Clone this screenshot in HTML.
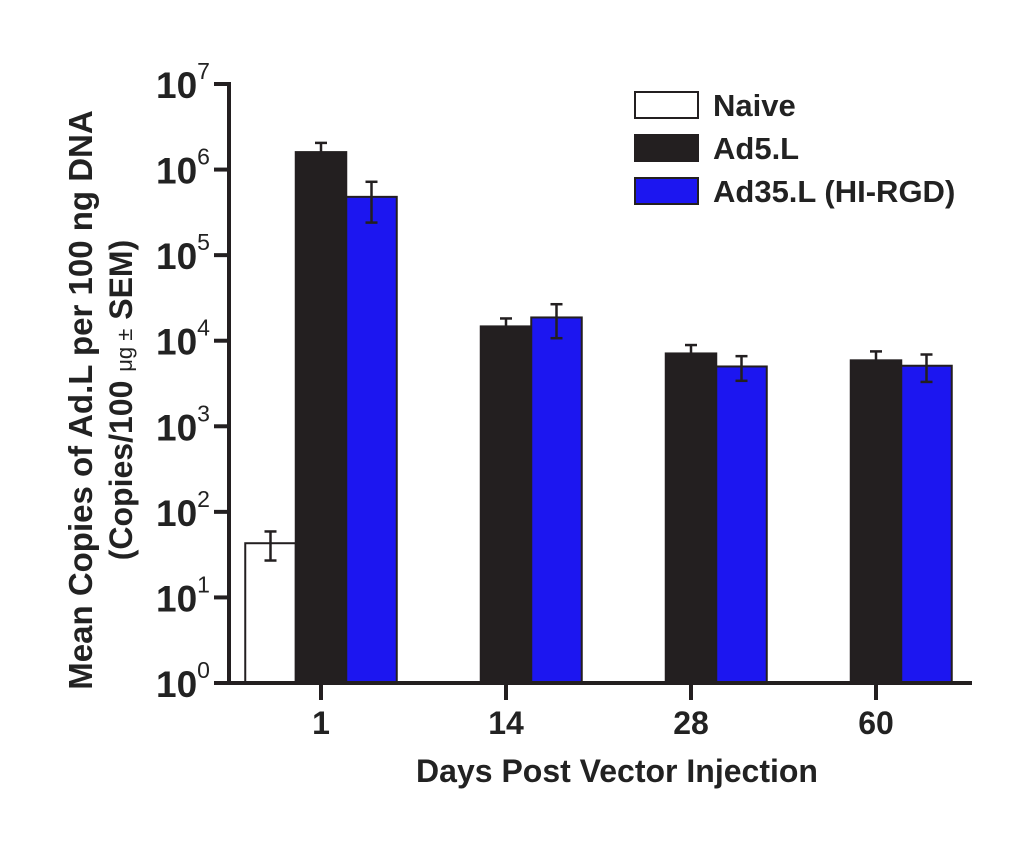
<!DOCTYPE html>
<html><head><meta charset="utf-8"><style>
html,body{margin:0;padding:0;background:#fff;}
svg{display:block;font-family:"Liberation Sans",Arial,sans-serif;font-weight:bold;}
</style></head><body>
<svg id="chart" width="1033" height="847" viewBox="0 0 1033 847" xmlns="http://www.w3.org/2000/svg">
<g id="plot"></g>
<g id="axes"></g>
<text x="617" y="782" text-anchor="middle" font-size="32" fill="#222">Days Post Vector Injection</text>
<g transform="translate(92,400) rotate(-90)">
<text x="0" y="0" text-anchor="middle" font-size="33" fill="#222">Mean Copies of Ad.L per 100 ng DNA</text>
<text x="0" y="40" text-anchor="middle" font-size="32" fill="#222">(Copies/100 <tspan font-size="22" font-weight="normal">μg ±</tspan>  SEM)</text>
</g>
<g id="legend"></g>
</svg>
<script>
const categories = ["1","14","28","60"];
const seriesNames = ["Naive","Ad5.L","Ad35.L (HI-RGD)"];
const naiveVals = [43, null, null, null];
const naiveErr = [16, null, null, null];
const ad5Vals = [1600000, 14700, 7100, 5900];
const ad5Err = [450000, 3500, 1800, 1600];
const ad35Vals = [480000, 18700, 5000, 5100];
const ad35Err = [240000, 8000, 1600, 1800];
const yTickExps = [0,1,2,3,4,5,6,7];

const NS="http://www.w3.org/2000/svg";
const x0=229, yBase=683, yTop=84, xEnd=972;
const dec=(yBase-yTop)/7;
function y(v){return yBase - Math.log10(v)*dec;}
function gx(i){return 321 + i*185;}
const bw=50.5;
function mk(tag,attrs,parent){const e=document.createElementNS(NS,tag);for(const k in attrs)e.setAttribute(k,attrs[k]);parent.appendChild(e);return e;}
const plot=document.getElementById('plot'), axes=document.getElementById('axes'), legend=document.getElementById('legend');
const series=[{vals:naiveVals,err:naiveErr,fill:"#fff",off:-1.5},{vals:ad5Vals,err:ad5Err,fill:"#231f20",off:-0.5},{vals:ad35Vals,err:ad35Err,fill:"#1c16f0",off:0.5}];
series.forEach((s,si)=>{
  s.vals.forEach((v,i)=>{
    if(v==null)return;
    const xl=gx(i)+s.off*bw, yt=y(v);
    const r=mk('rect',{x:xl,y:yt,width:bw,height:yBase-yt,fill:s.fill,stroke:"#231f20","stroke-width":2},plot);
    
    
    const cx=xl+bw/2, e=s.err[i];
    const yHi=y(v+e), yLo=(si===0||s.off>0)?y(Math.max(v-e,1)):yt;
    const g=mk('g',{stroke:"#231f20","stroke-width":2.5},plot);
    
    
    mk('line',{x1:cx,x2:cx,y1:yHi,y2:yLo},g);
    mk('line',{x1:cx-6,x2:cx+6,y1:yHi,y2:yHi},g);
    if(yLo!==yt) mk('line',{x1:cx-6,x2:cx+6,y1:yLo,y2:yLo},g);
  });
});
mk('line',{x1:x0,x2:x0,y1:yTop-2,y2:yBase+2,stroke:"#231f20","stroke-width":4},axes);
mk('line',{x1:214,x2:xEnd,y1:yBase,y2:yBase,stroke:"#231f20","stroke-width":4},axes);
yTickExps.forEach(ex=>{
  const yy=y(Math.pow(10,ex));
  mk('line',{x1:214,x2:x0,y1:yy,y2:yy,stroke:"#231f20","stroke-width":4},axes);
  const t=mk('text',{x:156,y:yy+14,"font-size":37,fill:"#222"},axes);
  t.textContent="10";
  const s=mk('tspan',{dy:-19,"font-size":23,"font-weight":"normal"},t);s.textContent=ex;
  
  
});
categories.forEach((c,i)=>{
  mk('line',{x1:gx(i),x2:gx(i),y1:yBase,y2:700,stroke:"#231f20","stroke-width":4},axes);
  const t=mk('text',{x:gx(i),y:734,"text-anchor":"middle","font-size":32,fill:"#222"},axes);
  t.textContent=c;
  
  
});
series.forEach((s,si)=>{
  const ly=92+si*43;
  const g=mk('g',{},legend);
  
  
  mk('rect',{x:635,y:ly,width:63,height:26,fill:s.fill,stroke:"#231f20","stroke-width":2},g);
  const t=mk('text',{x:713,y:ly+24,"font-size":31,fill:"#222"},g);t.textContent=seriesNames[si];
});
</script>
</body></html>
